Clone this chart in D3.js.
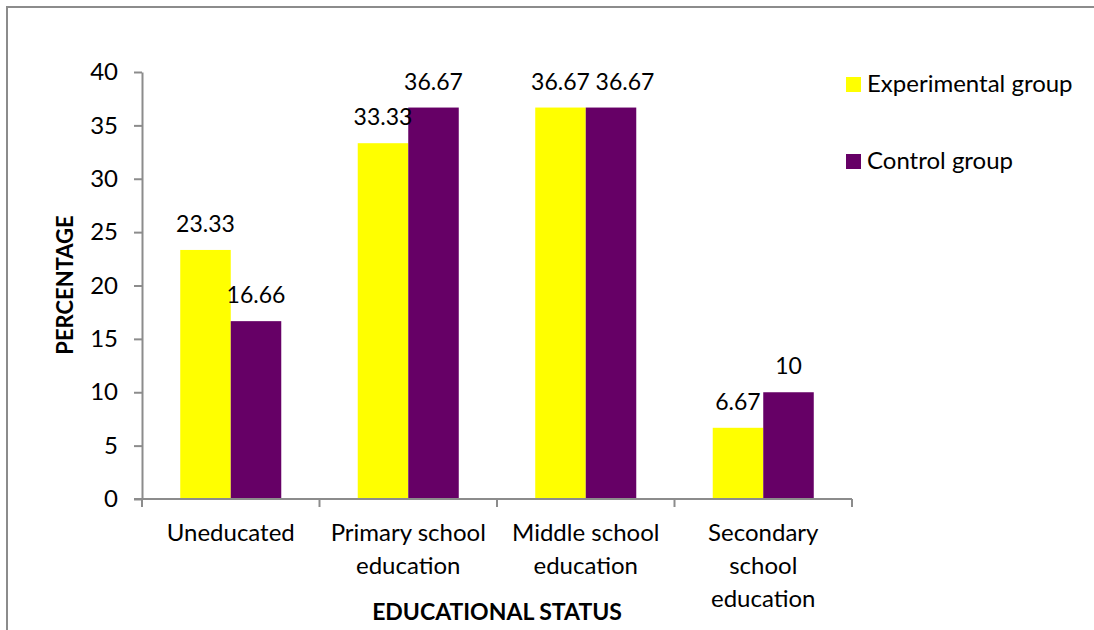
<!DOCTYPE html>
<html>
<head>
<meta charset="utf-8">
<script src="https://cdn.jsdelivr.net/npm/d3@7"></script>
<style>
  html, body { margin: 0; padding: 0; background: #fff; overflow: hidden; }
  svg { display: block; }
  text { font-family: Lato, "Open Sans", sans-serif; fill: #000; }
</style>
</head>
<body>
<svg id="chart" width="1094" height="630"></svg>
<script>
// Educational status of the two study groups (percent)
const categories = [
  ["Uneducated"],
  ["Primary school", "education"],
  ["Middle school", "education"],
  ["Secondary", "school", "education"]
];
const seriesNames = ["Experimental group", "Control group"];
const experimental = [23.33, 33.33, 36.67, 6.67];
const control = [16.66, 36.67, 36.67, 10];
const yTicks = [0, 5, 10, 15, 20, 25, 30, 35, 40];

const colors = ["#ffff00", "#660066"];
const axisGray = "#8c8c8c";
const labelSize = "24px";
const valueSize = "23px";

const svg = d3.select("#chart");

// outer chart frame (runs off the right and bottom edges)
svg.append("path")
  .attr("d", "M7,640 L7,7 L1100,7")
  .attr("fill", "none")
  .attr("stroke", axisGray)
  .attr("stroke-width", 2);

const plot = { left: 142, right: 852, top: 72, bottom: 499 };

const x = d3.scaleBand()
  .domain(d3.range(categories.length))
  .range([plot.left, plot.right])
  .paddingInner(0)
  .paddingOuter(0);

const x1 = d3.scaleBand()
  .domain(d3.range(seriesNames.length))
  .range([0, x.bandwidth()])
  .paddingInner(0)
  .paddingOuter(0.757);

const y = d3.scaleLinear().domain([0, 40]).range([plot.bottom, plot.top]);

const values = [experimental, control];

// bars
const groups = svg.append("g").selectAll("g")
  .data(categories)
  .join("g")
  .attr("transform", (d, i) => `translate(${x(i)},0)`);

groups.selectAll("rect")
  .data((d, i) => values.map((s, k) => ({ k, v: s[i] })))
  .join("rect")
  .attr("x", d => x1(d.k))
  .attr("y", d => y(d.v))
  .attr("width", x1.bandwidth())
  .attr("height", d => y(0) - y(d.v))
  .attr("fill", d => colors[d.k]);

// value labels; the control label of the middle-school pair is nudged
// right so the two equal-height labels do not collide
const nudge = (i, k) => (i === 2 && k === 1 ? 14 : 0);
groups.selectAll("text.val")
  .data((d, i) => values.map((s, k) => ({ i, k, v: s[i] })))
  .join("text")
  .attr("class", "val")
  .attr("x", d => x1(d.k) + x1.bandwidth() / 2 + nudge(d.i, d.k))
  .attr("y", d => y(d.v) - 18)
  .attr("text-anchor", "middle")
  .style("font-size", valueSize)
  .text(d => String(d.v));

// y axis
const yAxis = svg.append("g")
  .attr("transform", `translate(${plot.left},0)`)
  .call(d3.axisLeft(y).tickValues(yTicks).tickSize(8).tickPadding(10).tickSizeOuter(0));
yAxis.select(".domain").attr("stroke", axisGray).attr("stroke-width", 2);
yAxis.selectAll(".tick line").attr("stroke", axisGray).attr("stroke-width", 2);
yAxis.selectAll(".tick text")
  .style("font-size", labelSize)
  .style("font-family", "Lato, 'Open Sans', sans-serif")
  .attr("fill", "#000")
  .attr("dx", "-6");

// x axis baseline with ticks at category boundaries
const xAxisG = svg.append("g");
xAxisG.append("line")
  .attr("x1", plot.left - 8).attr("x2", plot.right)
  .attr("y1", plot.bottom).attr("y2", plot.bottom)
  .attr("stroke", axisGray).attr("stroke-width", 2);
xAxisG.selectAll("line.tk")
  .data(d3.range(categories.length + 1))
  .join("line")
  .attr("class", "tk")
  .attr("x1", i => plot.left + i * x.bandwidth())
  .attr("x2", i => plot.left + i * x.bandwidth())
  .attr("y1", plot.bottom).attr("y2", plot.bottom + 8)
  .attr("stroke", axisGray).attr("stroke-width", 2);

// category labels
const catLabels = svg.append("g").selectAll("text")
  .data(categories)
  .join("text")
  .attr("text-anchor", "middle")
  .attr("x", (d, i) => x(i) + x.bandwidth() / 2)
  .attr("y", 541)
  .style("font-size", labelSize);
catLabels.selectAll("tspan")
  .data(d => d)
  .join("tspan")
  .attr("x", function () { return d3.select(this.parentNode).attr("x"); })
  .attr("dy", (d, j) => j === 0 ? 0 : 33)
  .text(d => d);

// axis titles
svg.append("text")
  .attr("x", 497).attr("y", 620)
  .attr("text-anchor", "middle")
  .style("font-size", "23px")
  .style("font-weight", "bold")
  .text("EDUCATIONAL STATUS");

svg.append("text")
  .attr("transform", "translate(73,285) rotate(-90)")
  .attr("text-anchor", "middle")
  .style("font-size", "22px")
  .style("font-weight", "bold")
  .text("PERCENTAGE");

// legend
const legend = svg.append("g").selectAll("g")
  .data(seriesNames)
  .join("g")
  .attr("transform", (d, i) => `translate(846,${77 + i * 77})`);
legend.append("rect")
  .attr("width", 15).attr("height", 15)
  .attr("fill", (d, i) => colors[i]);
legend.append("text")
  .attr("x", 21).attr("y", 15)
  .style("font-size", labelSize)
  .text(d => d);
</script>
</body>
</html>
